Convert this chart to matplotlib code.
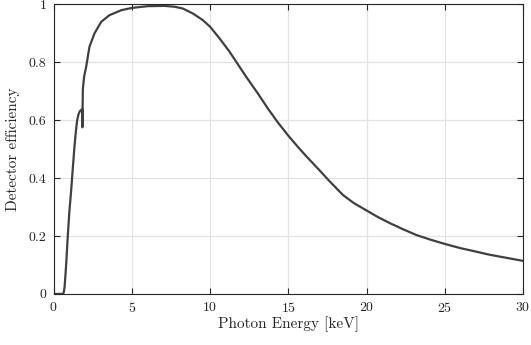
import numpy as np
import matplotlib
matplotlib.use('Agg')
import matplotlib.pyplot as plt
from matplotlib.ticker import FuncFormatter

# detector efficiency curve
energy = [0, 0.5, 0.6, 0.65, 0.7, 0.8, 0.9, 1.0, 1.12, 1.22, 1.33, 1.42, 1.5,
          1.58, 1.65, 1.72, 1.8, 1.838, 1.839, 1.85, 1.87, 1.95, 2.08, 2.29,
          2.61, 3.04, 3.57, 4.32, 5.0, 6.02, 7.09, 7.73, 8.25, 8.89, 9.53, 10.0,
          10.6, 11.24, 11.67, 12.31, 13.05, 13.69, 14.3, 15.0, 15.6, 16.2, 16.9,
          17.65, 18.5, 19.2, 20.0, 20.7, 21.5, 22.3, 23.2, 24.1, 25.04, 26.0,
          27.0, 27.8, 28.7, 30.0]
efficiency = [0, 0, 0, 0.006, 0.024, 0.10, 0.196, 0.28, 0.357, 0.43, 0.507,
              0.56, 0.598, 0.618, 0.628, 0.633, 0.636, 0.636, 0.575, 0.64,
              0.709, 0.75, 0.784, 0.853, 0.899, 0.939, 0.962, 0.979, 0.987,
              0.993, 0.994, 0.991, 0.985, 0.968, 0.945, 0.922, 0.882, 0.836,
              0.801, 0.749, 0.692, 0.640, 0.594, 0.546, 0.508, 0.472, 0.432,
              0.388, 0.341, 0.313, 0.288, 0.266, 0.244, 0.224, 0.203, 0.187,
              0.172, 0.158, 0.146, 0.136, 0.127, 0.114]

xticks = [0, 5, 10, 15, 20, 25, 30]
yticks = [0, 0.2, 0.4, 0.6, 0.8, 1]

plt.rcParams['font.family'] = 'serif'
plt.rcParams['font.serif'] = ['cmr10']
plt.rcParams['mathtext.fontset'] = 'cm'
plt.rcParams['axes.formatter.use_mathtext'] = True

fig = plt.figure(figsize=(5.31, 3.45), dpi=100)
ax = fig.add_axes([0.101, 0.148, 0.884, 0.840])

ax.plot(energy, efficiency, color='#404040', lw=1.6)

ax.set_xlim(0, 30)
ax.set_ylim(0, 1)
ax.set_xticks(xticks)
ax.set_yticks(yticks)
ax.yaxis.set_major_formatter(FuncFormatter(lambda v, p: '%g' % v))
ax.grid(True, color='#e3e3e3', lw=0.9)
ax.set_axisbelow(True)
ax.tick_params(direction='in', top=True, right=True, length=4, width=0.8,
               labelsize=10, colors='#262626', pad=5)
for s in ax.spines.values():
    s.set_color('#262626')
    s.set_linewidth(0.8)

ax.set_xlabel('Photon Energy [keV]', fontsize=11, labelpad=1, color='#262626')
ax.set_ylabel('Detector efficiency', fontsize=11, labelpad=6, color='#262626')

fig.savefig('out.png', dpi=100)
